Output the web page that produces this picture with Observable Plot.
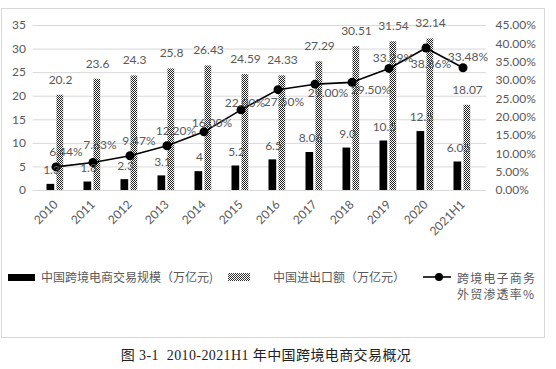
<!DOCTYPE html>
<html>
<head>
<meta charset="utf-8">
<script src="https://cdn.jsdelivr.net/npm/d3@7"></script>
<script src="https://cdn.jsdelivr.net/npm/@observablehq/plot@0.6"></script>
<style>
  body { margin: 0; background: #fff; }
  #wrap { position: relative; width: 556px; height: 369px; overflow: hidden; font-family: Lato, "Noto Sans CJK SC", sans-serif; }
  #frame { position: absolute; left: 1px; top: 8px; width: 544px; height: 330px; box-sizing: border-box; border: 1px solid #d9d9d9; }
  #chart { position: absolute; left: 0; top: 0; }
  .lg { position: absolute; font-family: "Noto Sans CJK SC", sans-serif; font-size: 12px; line-height: 14px; color: #595959; white-space: nowrap; }
  .sw { position: absolute; }
  #caption { position: absolute; left: 0; width: 532px; top: 347px; text-align: center; font-family: "Liberation Serif", "Noto Sans CJK SC", serif; font-size: 14px; line-height: 18px; color: #222; letter-spacing: 0.4px; }
</style>
</head>
<body>
<div id="wrap">
  <div id="frame"></div>
  <div id="chart"></div>
  <div class="sw" style="left:8px;top:274px;width:27px;height:7px;background:#000"></div>
  <div class="lg" style="left:41px;top:270px">中国跨境电商交易规模（万亿元)</div>
  <div class="sw" style="left:228px;top:273px;width:22px;height:8px;background:repeating-conic-gradient(#333 0 25%, #fff 0 50%) 0 0/2px 2px"></div>
  <div class="lg" style="left:273px;top:270px">中国进出口额（万亿元）</div>
  <svg class="sw" style="left:422px;top:271px" width="30" height="12"><line x1="1" y1="6" x2="29" y2="6" stroke="#000" stroke-width="1.6"/><circle cx="17" cy="6" r="4" fill="#000"/></svg>
  <div class="lg" style="left:457px;top:270px;line-height:16px;letter-spacing:1.2px">跨境电子商务<br>外贸渗透率%</div>
  <div id="caption">图 3-1&nbsp; 2010-2021H1 年中国跨境电商交易概况</div>
</div>
<script>
const years = ["2010","2011","2012","2013","2014","2015","2016","2017","2018","2019","2020","2021H1"];
const ecomScale = [1.3, 1.8, 2.3, 3.1, 4, 5.2, 6.5, 8.06, 9.0, 10.5, 12.5, 6.05];
const ecomLabels = ["1.3","1.8","2.3","3.1","4","5.2","6.5","8.06","9.0","10.5","12.5","6.05"];
const tradeTotal = [20.2, 23.6, 24.3, 25.8, 26.43, 24.59, 24.33, 27.29, 30.51, 31.54, 32.14, 18.07];
const penetration = [6.44, 7.63, 9.47, 12.20, 16.00, 22.00, 27.50, 29.00, 29.50, 33.29, 38.86, 33.48];
const leftTicks = [0, 5, 10, 15, 20, 25, 30, 35];
const rightTicks = [0, 5, 10, 15, 20, 25, 30, 35, 40, 45];

const LEFT_MAX = 35, RIGHT_MAX = 45;
const toLeft = p => p * LEFT_MAX / RIGHT_MAX;

const data = years.map((y, i) => ({
  year: y, scale: ecomScale[i], scaleLabel: ecomLabels[i],
  trade: tradeTotal[i], pct: penetration[i]
}));

const textColor = "#595959";
// label placement (offsets in px) for the penetration labels
const pctOffsets = {
  "2010": [10, -15], "2011": [7, -17], "2012": [9, -15], "2013": [9, -15],
  "2014": [8, -9], "2015": [4, -7], "2016": [6, 12], "2017": [13, 9],
  "2018": [19, 8], "2019": [4, -10], "2020": [5, 16], "2021H1": [5, -11]
};

const pctLabelMarks = Object.entries(pctOffsets).map(([yr, [dx, dy]]) =>
  Plot.text(data.filter(d => d.year === yr), {
    x: "year", y: d => toLeft(d.pct), text: d => d.pct.toFixed(2) + "%",
    dx, dy, fill: textColor, fontSize: 12
  })
);

const chart = Plot.plot({
  width: 556,
  height: 250,
  marginTop: 25,
  marginBottom: 60,
  marginLeft: 32.5,
  marginRight: 70,
  style: { fontFamily: "Lato, sans-serif", fontSize: "12px", background: "transparent", overflow: "visible" },
  x: { type: "band", domain: years, padding: 0, label: null },
  y: { domain: [0, LEFT_MAX], label: null },
  marks: [
    Plot.gridY(leftTicks, { stroke: "#d9d9d9", strokeOpacity: 1, strokeWidth: 1 }),
    Plot.axisY(leftTicks, { anchor: "left", tickSize: 0, tickPadding: 7, color: textColor, fontSize: 12, label: null }),
    Plot.axisY(rightTicks.map(toLeft), { anchor: "right", tickSize: 0, tickPadding: 9, color: textColor, fontSize: 12, label: null,
      tickFormat: d => (d * RIGHT_MAX / LEFT_MAX).toFixed(2) + "%" }),
    Plot.axisX({ anchor: "bottom", tickSize: 0, tickPadding: 12, tickRotate: -45, color: textColor, fontSize: 12, label: null }),
    Plot.barY(data, { x: "year", y: "scale", fill: "#000", insetLeft: 9.5, insetRight: 19.8 }),
    Plot.barY(data, { x: "year", y: "trade", fill: "#888", insetLeft: 19.5, insetRight: 10.8, ariaLabel: "hatchbar", className: "hatchbar" }),
    Plot.line(data, { x: "year", y: d => toLeft(d.pct), stroke: "#000", strokeWidth: 1.6 }),
    Plot.dot(data, { x: "year", y: d => toLeft(d.pct), r: 4.5, fill: "#000" }),
    Plot.text(data, { x: "year", y: "scale", text: "scaleLabel", dx: -4.5, dy: -14, fill: textColor, fontSize: 12 }),
    Plot.text(data, { x: "year", y: "trade", text: d => String(d.trade), dx: 4.5, dy: -15.5, fill: textColor, fontSize: 12 }),
    ...pctLabelMarks
  ]
});

const svg = d3.select(chart);
svg.insert("defs", ":first-child").html(
  '<pattern id="hatch" width="2" height="2" patternUnits="userSpaceOnUse">' +
  '<rect width="2" height="2" fill="#fff"/><rect width="1" height="1" fill="#222"/><rect x="1" y="1" width="1" height="1" fill="#222"/></pattern>'
);
svg.selectAll("g[aria-label='hatchbar'] rect, g.hatchbar rect").attr("fill", "url(#hatch)");

document.getElementById("chart").appendChild(chart);
</script>
</body>
</html>
